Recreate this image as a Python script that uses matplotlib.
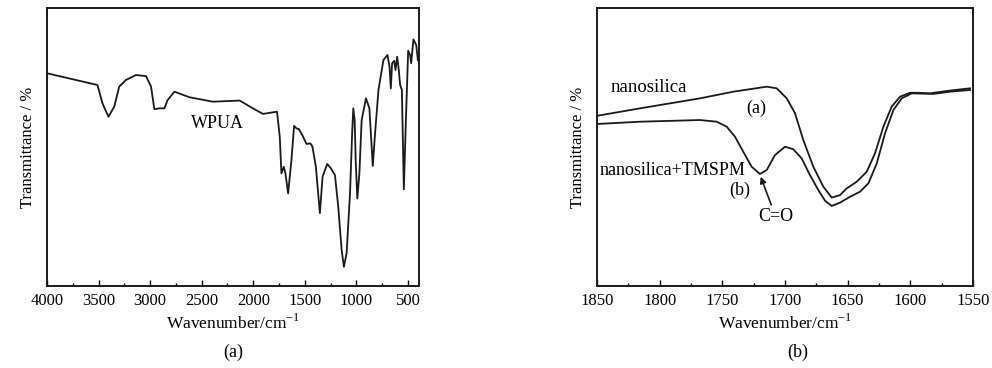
import matplotlib.pyplot as plt
from matplotlib.ticker import MultipleLocator

plt.rcParams['font.family'] = ['Liberation Serif', 'DejaVu Serif']
plt.rcParams['mathtext.fontset'] = 'custom'
plt.rcParams['mathtext.rm'] = 'Liberation Serif'

# (a) WPUA spectrum, wavenumber in cm-1, transmittance in arbitrary %
wpua_wn = [3997, 3511, 3462, 3404, 3348, 3300, 3235, 3137, 3040, 2991, 2959, 2910,
           2862, 2830, 2765, 2619, 2392, 2132, 2003, 1906, 1770, 1743, 1727, 1704,
           1688, 1662, 1630, 1604, 1581, 1556, 1517, 1484, 1446, 1426, 1393, 1354,
           1328, 1283, 1247, 1208, 1176, 1143, 1121, 1095, 1062, 1040, 1030, 1017,
           1007, 991, 971, 949, 907, 874, 841, 819, 786, 738, 699, 679, 666, 654,
           634, 621, 605, 589, 576, 559, 540, 520, 498, 479, 469, 447, 420, 404]
wpua_t = [76.5, 72.3, 65.7, 60.9, 64.5, 71.7, 74.1, 75.9, 75.5, 71.7, 63.6, 63.9,
          63.9, 66.9, 69.9, 67.9, 66.3, 66.7, 63.9, 61.9, 62.7, 53.7, 40.5, 42.9,
          40.5, 33.3, 45.3, 57.6, 56.7, 56.4, 53.7, 51.1, 51.3, 50.1, 42.9, 26.2,
          39.3, 43.9, 42.3, 39.9, 28.5, 12.9, 6.9, 11.8, 33.3, 56.1, 63.9, 59.7,
          45.3, 31.5, 40.5, 59.7, 67.5, 63.9, 43.2, 54.9, 70.5, 81.3, 83.1, 78.9,
          71.1, 80.1, 81.0, 77.7, 82.5, 77.7, 72.3, 70.5, 34.8, 59.7, 84.6, 83.1,
          80.1, 88.7, 86.7, 81.3]

# (b) nanosilica vs nanosilica+TMSPM
sil_wn = [1849, 1815.7, 1767.8, 1741.2, 1714.6, 1706.6, 1698.6, 1692.0, 1685.4,
          1677.4, 1669.4, 1662.7, 1656.1, 1650.8, 1642.8, 1634.8, 1628.2, 1621.5,
          1614.9, 1608.2, 1600.3, 1593.6, 1584.3, 1568.4, 1552.4]
sil_t = [61.3, 63.9, 67.5, 69.9, 71.7, 71.1, 67.5, 62.1, 52.5, 42.9, 35.7, 31.8,
         32.7, 35.1, 37.5, 41.1, 47.7, 57.3, 64.5, 68.1, 69.5, 69.5, 69.3, 70.3, 71.1]

tms_wn = [1849, 1815.7, 1767.8, 1754.5, 1746.5, 1739.9, 1733.3, 1726.6, 1720.0,
          1714.6, 1708.0, 1700.0, 1693.4, 1686.7, 1680.1, 1673.4, 1668.1, 1662.7,
          1656.1, 1648.1, 1640.2, 1633.5, 1626.8, 1620.2, 1613.5, 1606.9, 1598.9,
          1581.6, 1568.4, 1552.4]
tms_t = [58.3, 59.1, 59.7, 59.1, 57.3, 53.7, 48.3, 42.9, 40.3, 41.7, 47.1, 50.1,
         49.2, 45.9, 39.9, 34.5, 30.7, 28.8, 30.0, 32.1, 33.9, 36.9, 44.1, 54.9,
         63.3, 67.5, 69.3, 69.1, 69.9, 70.5]

W, H = 992, 368
fig = plt.figure(figsize=(W / 100, H / 100), dpi=100)
ax1 = fig.add_axes([47 / W, 1 - 286 / H, 372 / W, 278 / H])
ax2 = fig.add_axes([597 / W, 1 - 286 / H, 376 / W, 278 / H])

lc = '#1a1a1a'
ax1.plot(wpua_wn, wpua_t, color=lc, lw=1.3)
ax2.plot(sil_wn, sil_t, color=lc, lw=1.3)
ax2.plot(tms_wn, tms_t, color=lc, lw=1.3)

ax1.set_xlim(4000, 393)
ax2.set_xlim(1850, 1550)
ax1.xaxis.set_major_locator(MultipleLocator(500))
ax1.xaxis.set_minor_locator(MultipleLocator(250))
ax2.xaxis.set_major_locator(MultipleLocator(50))
ax2.xaxis.set_minor_locator(MultipleLocator(25))

for ax, tag, xc in [(ax1, '(a)', 233), (ax2, '(b)', 798)]:
    ax.set_ylim(0, 100)
    ax.set_yticks([])
    ax.tick_params(axis='x', which='both', direction='in', top=False, labelsize=12, pad=5)
    ax.tick_params(axis='x', which='major', length=4, width=1)
    ax.tick_params(axis='x', which='minor', length=2.5, width=1)
    for s in ax.spines.values():
        s.set_linewidth(1.4)
        s.set_color(lc)
    ax.set_xlabel('Wavenumber/cm$^{-1}$', fontsize=12.5, labelpad=3)
    ax.set_ylabel('Transmittance / %', fontsize=12, labelpad=8)
    fig.text(xc / W, 1 - 352 / H, tag, fontsize=13, ha='center', va='center')

ax1.text(2346, 58.6, 'WPUA', fontsize=13, ha='center', va='center')

ax2.text(1839.6, 71.4, 'nanosilica', fontsize=13.5, ha='left', va='center')
ax2.text(1722.6, 63.9, '(a)', fontsize=13, ha='center', va='center')
ax2.text(1847.6, 41.7, 'nanosilica+TMSPM', fontsize=13, ha='left', va='center')
ax2.text(1736, 34.5, '(b)', fontsize=13, ha='center', va='center')
ax2.annotate('C=O', xy=(1719.4, 39.3), xytext=(1707.6, 28.2), fontsize=13,
             ha='center', va='top',
             arrowprops=dict(arrowstyle='-|>', color=lc, lw=1.2, shrinkA=0, shrinkB=0,
                             mutation_scale=9))

fig.savefig('out.png', dpi=100)
